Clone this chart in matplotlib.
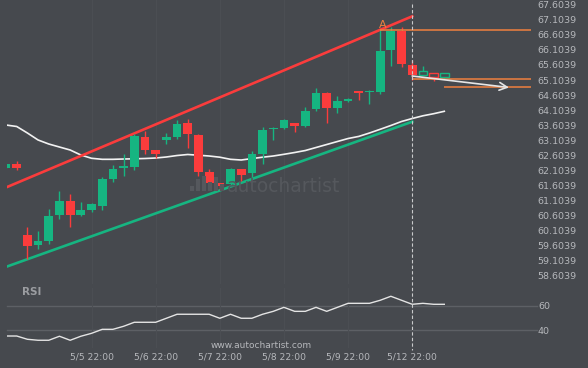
import numpy as np
import matplotlib
matplotlib.use("Agg")
import matplotlib.pyplot as plt
from matplotlib.patches import Rectangle
from matplotlib.transforms import blended_transform_factory

# 4H candles, index 0 = 5/4 22:00 (two older candles before the gap)
opens = [62.186, 62.318, 59.963, 59.631, 59.764, 60.626, 61.091, 60.626, 60.792, 60.925,
         61.821, 62.202, 62.219, 63.214, 62.783, 63.115, 63.214, 63.679, 63.281, 62.053,
         61.688, 61.655, 62.153, 62.020, 62.650, 63.480, 63.513, 63.679, 63.579, 64.143,
         64.674, 64.176, 64.409, 64.741, 64.707, 64.707, 66.101, 66.731, 65.603, 65.271,
         65.338, 65.205]
highs = [62.330, 62.418, 60.228, 60.095, 60.825, 61.423, 61.323, 61.058, 61.024, 61.887,
         62.285, 62.650, 63.314, 63.413, 62.783, 63.347, 63.778, 63.812, 63.314, 62.153,
         61.688, 62.186, 62.153, 62.750, 63.546, 63.546, 63.812, 63.679, 64.210, 64.840,
         64.707, 64.575, 64.508, 64.741, 64.774, 66.764, 66.864, 66.864, 65.769, 65.570,
         65.338, 65.338]
lows = [62.180, 62.119, 59.166, 59.498, 59.664, 60.494, 60.228, 60.593, 60.726, 60.792,
        61.721, 61.920, 62.119, 62.650, 62.517, 62.982, 63.148, 62.849, 61.920, 61.456,
        61.456, 61.589, 61.754, 61.887, 62.318, 63.115, 63.480, 63.380, 63.546, 64.077,
        63.679, 64.011, 64.376, 64.442, 64.309, 64.641, 65.570, 65.537, 65.106, 65.271,
        65.072, 65.139]
closes = [62.318, 62.186, 59.598, 59.764, 60.593, 61.091, 60.626, 60.792, 60.991, 61.821,
          62.153, 62.219, 63.247, 62.783, 62.650, 63.214, 63.646, 63.314, 62.053, 61.688,
          61.589, 62.153, 61.953, 62.650, 63.447, 63.513, 63.778, 63.579, 64.077, 64.674,
          64.176, 64.409, 64.475, 64.674, 64.741, 66.068, 66.731, 65.636, 65.271, 65.404,
          65.205, 65.338]
n_projected = 3  # last candles drawn hollow

moving_avg = [63.612, 63.563, 63.347, 63.115, 62.982, 62.882, 62.783, 62.617, 62.508, 62.474,
              62.474, 62.484, 62.491, 62.501, 62.517, 62.551, 62.600, 62.634, 62.610, 62.584,
              62.544, 62.474, 62.451, 62.498, 62.544, 62.584, 62.640, 62.700, 62.766, 62.866,
              62.965, 63.065, 63.164, 63.234, 63.347, 63.470, 63.596, 63.729, 63.828, 63.918,
              63.987, 64.067]

rsi = [35.3, 35.3, 32.6, 31.8, 31.8, 35.1, 31.8, 35.1, 37.5, 40.8,
       40.8, 43.3, 46.6, 46.6, 46.6, 49.9, 53.2, 53.2, 53.2, 53.2,
       49.9, 53.2, 49.9, 49.9, 53.2, 55.6, 58.9, 55.6, 55.6, 58.9,
       55.6, 58.9, 62.2, 62.2, 62.2, 64.7, 68.0, 64.7, 61.4, 62.2,
       61.4, 61.4]

first_index = -2
channel_x = [-1.9, 36.0]
channel_upper = [61.555, 67.219]
channel_lower = [58.918, 63.722]

pattern_high = 66.764
pattern_high_start = 33
target_levels = [65.139, 64.873]
target_starts = [36, 39]
arrow_from = (36, 65.238)
arrow_to = (45.05, 64.857)

tick_pos = [6, 12, 18, 24, 30, 36]
tick_labels = ["5/5 22:00", "5/6 22:00", "5/7 22:00", "5/8 22:00", "5/9 22:00", "5/12 22:00"]
price_ticks = [58.6039 + 0.5 * i for i in range(19)]
now_index = 36

BG = "#46494e"
TXT = "#b6b8bc"
GREEN = "#16b581"
RED = "#fb3c3c"
ORANGE = "#f0813f"
W, H = 588, 368


def fig_box(x, y, w, h):
    return [x / W, 1 - (y + h) / H, w / W, h / H]


fig = plt.figure(figsize=(W / 100, H / 100), dpi=100, facecolor=BG)
ax = fig.add_axes(fig_box(7, 0, 524, 284))
ax_rsi = fig.add_axes(fig_box(7, 288, 524, 60), sharex=ax)

for a in (ax, ax_rsi):
    a.set_facecolor(BG)
    for s in a.spines.values():
        s.set_visible(False)
    a.set_xticks(tick_pos)
    a.grid(axis="x", color="#4b4e53", lw=0.8)
    a.tick_params(length=0, colors=TXT, labelsize=6.6)

x = np.arange(len(opens)) + first_index
o = np.array(opens)
c = np.array(closes)
up = c >= o
colors = np.where(up, GREEN, RED)
bottoms = np.minimum(o, c)
heights = np.maximum(np.abs(c - o), 0.035)
solid = np.arange(len(opens)) < len(opens) - n_projected

ax.vlines(x, lows, highs, colors=colors, lw=1, zorder=3)
ax.bar(x[solid], heights[solid], bottom=bottoms[solid], width=0.82,
       color=colors[solid], zorder=4)
ax.bar(x[~solid], heights[~solid], bottom=bottoms[~solid], width=0.82,
       facecolor=BG, edgecolor=colors[~solid], lw=1, zorder=4)

ax.plot(x, moving_avg, color="#f2f2f2", lw=1.2, zorder=2)
ax.plot(channel_x, channel_upper, color=RED, lw=1.9, zorder=2)
ax.plot(channel_x, channel_lower, color=GREEN, lw=1.9, zorder=2)

xmax = 47.11
ax.hlines(pattern_high, pattern_high_start, xmax, color=ORANGE, lw=1.1, zorder=3)
ax.hlines(target_levels, target_starts, xmax, color=ORANGE, lw=1.1, zorder=3)
ax.text(33.2, 66.93, "A", color=ORANGE, fontsize=8, ha="center", va="center")
ax.annotate("", xy=arrow_to, xytext=arrow_from,
            arrowprops=dict(arrowstyle="->", color="#e6e6e6", lw=1.2,
                            mutation_scale=14, shrinkA=0, shrinkB=0), zorder=5)

ax.set_xlim(-1.908, xmax)
ax.set_ylim(58.3371, 67.7598)
ax.yaxis.tick_right()
ax.set_yticks(price_ticks)
ax.set_yticklabels([f"{p:.4f}" for p in price_ticks])
ax.tick_params(axis="y", pad=4.5, labelsize=6.8)
ax.tick_params(axis="x", labelbottom=False)

# watermark
fig.text(227 / W, 1 - 186 / H, "autochartist", color="#55585d", fontsize=13.5,
         ha="left", va="center")
for bx, bh in zip([190, 196, 202, 208, 214, 220], [5, 12, 15, 9, 14, 7]):
    fig.add_artist(Rectangle((bx / W, 1 - 191 / H), 4 / W, bh / H,
                             transform=fig.transFigure, color="#55585d", lw=0))

# RSI panel
ax_rsi.plot(x, rsi, color="#e4e4e4", lw=1)
for lvl in (60, 40):
    ax_rsi.plot([-1.908, 47.7], [lvl, lvl], color="#5d6065", lw=1, clip_on=False, zorder=1)
ax_rsi.set_ylim(25.43, 74.81)
ax_rsi.yaxis.tick_right()
ax_rsi.set_yticks([60, 40])
ax_rsi.tick_params(axis="y", pad=5, labelsize=6.8)
ax_rsi.set_xticklabels(tick_labels)
ax_rsi.tick_params(axis="x", pad=3)
ax_rsi.text(15 / 524, 1 - 4 / 60, "RSI", transform=ax_rsi.transAxes, color="#9b9da1",
            fontsize=7.5, fontweight="bold", va="center", ha="left")

fig.text(312 / W, 1 - 345 / H, "www.autochartist.com", color=TXT, fontsize=6.5,
         ha="right", va="center")

# "now" marker across both panels
tr = blended_transform_factory(ax.transData, fig.transFigure)
fig.add_artist(plt.Line2D([now_index, now_index], [1 - 4 / H, 1 - 350 / H], transform=tr,
                          color="#c9cacc", lw=0.8, ls=(0, (3, 2))))

fig.savefig("out.png", dpi=100, facecolor=BG)
